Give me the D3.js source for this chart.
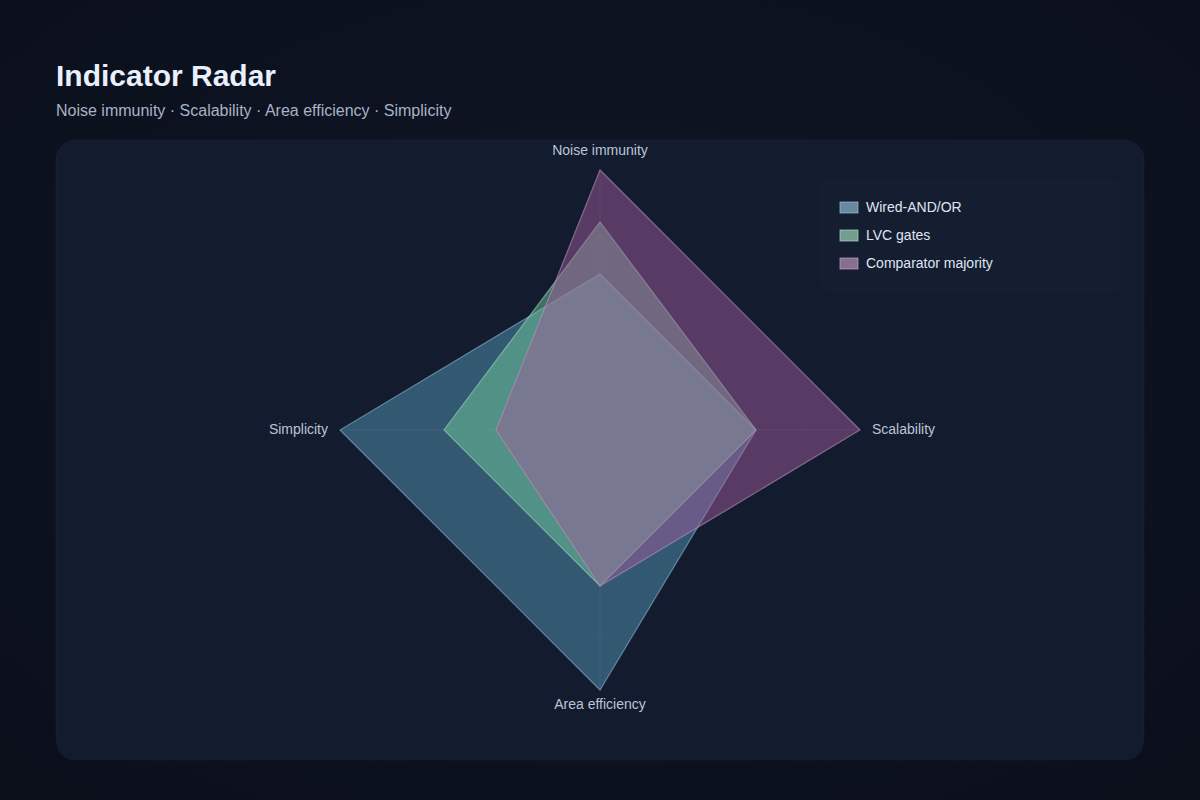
<!DOCTYPE html>
<html>
<head>
<meta charset="utf-8">
<script src="https://cdn.jsdelivr.net/npm/d3@7"></script>
<style>
  html, body { margin: 0; padding: 0; background: #0b111d; }
  svg { display: block; font-family: "Liberation Sans", Arial, sans-serif; }
</style>
</head>
<body>
<div id="chart"></div>
<script>
// data
var axes = ["Noise immunity", "Scalability", "Area efficiency", "Simplicity"];
var seriesNames = ["Wired-AND/OR", "LVC gates", "Comparator majority"];
var wiredValues = [3, 3, 5, 5];
var lvcValues = [4, 3, 3, 3];
var comparatorValues = [5, 5, 3, 2];
var seriesColors = ["#589dbd", "#75cf9a", "#a65f9f"];
var maxValue = 5;
var levels = [1, 2, 3, 4, 5];

function init() {
	var w = 1200, h = 800;
	var cx = 600, cy = 430, radius = 260;

	var series = [wiredValues, lvcValues, comparatorValues];

	var svg = d3.select("#chart").append("svg")
		.attr("width", w)
		.attr("height", h);

	var defs = svg.append("defs");
	var bg = defs.append("radialGradient").attr("id", "bg")
		.attr("cx", "50%").attr("cy", "45%").attr("r", "75%");
	bg.append("stop").attr("offset", "0%").attr("stop-color", "#0f1626");
	bg.append("stop").attr("offset", "100%").attr("stop-color", "#0a0f1a");

	svg.append("rect").attr("width", w).attr("height", h).attr("fill", "url(#bg)");

	// title
	svg.append("text")
		.attr("x", 56).attr("y", 86)
		.attr("fill", "#e9effc")
		.attr("font-size", 30)
		.attr("font-weight", "bold")
		.text("Indicator Radar");

	svg.append("text")
		.attr("x", 56).attr("y", 116)
		.attr("fill", "#a9b3c6")
		.attr("font-size", 16)
		.text(axes.join(" · "));

	// panel
	svg.append("rect")
		.attr("x", 56).attr("y", 140)
		.attr("width", 1088).attr("height", 620)
		.attr("rx", 20)
		.attr("fill", "#131b2e")
		.attr("stroke", "rgba(255,255,255,0.03)");

	var rScale = d3.scaleLinear().domain([0, maxValue]).range([0, radius]);
	var angle = d3.scalePoint().domain(axes).range([0, 2 * Math.PI * (axes.length - 1) / axes.length]);

	function pt(axis, v) {
		var a = angle(axis) - Math.PI / 2;
		return [cx + rScale(v) * Math.cos(a), cy + rScale(v) * Math.sin(a)];
	}

	var g = svg.append("g");

	// grid
	g.selectAll(".level")
		.data(levels)
		.enter().append("polygon")
		.attr("points", function(l) {
			return axes.map(function(a) { return pt(a, l).join(","); }).join(" ");
		})
		.attr("fill", "none")
		.attr("stroke", "rgba(255,255,255,0.022)");

	g.selectAll(".axis")
		.data(axes)
		.enter().append("line")
		.attr("x1", cx).attr("y1", cy)
		.attr("x2", function(a) { return pt(a, maxValue)[0]; })
		.attr("y2", function(a) { return pt(a, maxValue)[1]; })
		.attr("stroke", "rgba(255,255,255,0.06)");

	// series polygons
	var line = d3.line().curve(d3.curveLinearClosed);
	g.selectAll(".area")
		.data(series)
		.enter().append("path")
		.attr("d", function(vals) {
			return line(vals.map(function(v, i) { return pt(axes[i], v); }));
		})
		.attr("fill", function(d, i) { return seriesColors[i]; })
		.attr("fill-opacity", 0.48)
		.attr("stroke", function(d, i) { return d3.interpolateRgb(seriesColors[i], "#d8dce8")(0.4); })
		.attr("stroke-opacity", 0.6)
		.attr("stroke-width", 1.2);

	// axis labels
	var labelPos = [
		{ dx: 0, dy: -279, anchor: "middle" },
		{ dx: 272, dy: 0, anchor: "start" },
		{ dx: 0, dy: 275, anchor: "middle" },
		{ dx: -272, dy: 0, anchor: "end" }
	];
	svg.selectAll(".axis-label")
		.data(axes)
		.enter().append("text")
		.attr("x", function(d, i) { return cx + labelPos[i].dx; })
		.attr("y", function(d, i) { return cy + labelPos[i].dy; })
		.attr("text-anchor", function(d, i) { return labelPos[i].anchor; })
		.attr("dominant-baseline", "middle")
		.attr("fill", "#bcc5d6")
		.attr("font-size", 14)
		.text(function(d) { return d; });

	// legend
	var legend = svg.append("g");
	legend.append("rect")
		.attr("x", 820).attr("y", 180)
		.attr("width", 300).attr("height", 112)
		.attr("rx", 10)
		.attr("fill", "rgba(255,255,255,0.012)")
		.attr("stroke", "rgba(255,255,255,0.02)");

	var items = legend.selectAll(".item")
		.data(seriesNames)
		.enter().append("g")
		.attr("transform", function(d, i) { return "translate(840," + (208 + i * 28) + ")"; });

	items.append("rect")
		.attr("x", 0).attr("y", -6)
		.attr("width", 18).attr("height", 11)
		.attr("fill", function(d, i) { return d3.interpolateRgb(seriesColors[i], "#b8c0cc")(0.45); })
		.attr("fill-opacity", 0.75)
		.attr("stroke", function(d, i) { return d3.interpolateRgb(seriesColors[i], "#e0e4ee")(0.5); })
		.attr("stroke-opacity", 0.7);

	items.append("text")
		.attr("x", 26).attr("y", 0)
		.attr("dominant-baseline", "middle")
		.attr("fill", "#dfe6f2")
		.attr("font-size", 14)
		.text(function(d) { return d; });
}

window.onload = init;
</script>
</body>
</html>
